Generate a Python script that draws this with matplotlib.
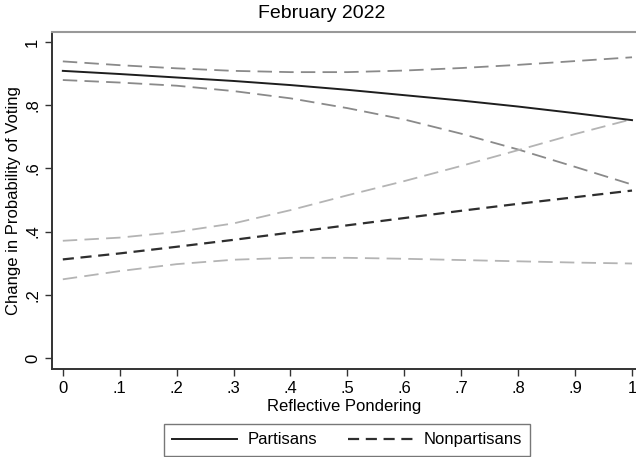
import matplotlib
matplotlib.use("Agg")
import matplotlib.pyplot as plt

plt.rcParams['font.family'] = ['Liberation Sans', 'DejaVu Sans']

# reflective pondering values
x = [0, .1, .2, .3, .4, .5, .6, .7, .8, .9, 1]

# partisans: prediction and CI
part_mean = [.909, .899, .888, .877, .864, .849, .832, .815, .796, .775, .753]
part_hi = [.939, .927, .917, .909, .905, .905, .910, .918, .928, .940, .952]
part_lo = [.880, .872, .862, .845, .822, .791, .755, .710, .660, .605, .549]

# nonpartisans: prediction and CI
nonp_mean = [.312, .331, .352, .374, .397, .420, .443, .466, .488, .509, .530]
nonp_hi = [.371, .381, .399, .426, .468, .515, .560, .608, .658, .709, .756]
nonp_lo = [.249, .275, .297, .311, .317, .317, .314, .310, .306, .302, .299]

xticks = [0, .1, .2, .3, .4, .5, .6, .7, .8, .9, 1]
xticklabels = ["0", ".1", ".2", ".3", ".4", ".5", ".6", ".7", ".8", ".9", "1"]
yticks = [0, .2, .4, .6, .8, 1]
yticklabels = ["0", ".2", ".4", ".6", ".8", "1"]

fig = plt.figure(figsize=(6.36, 4.57), dpi=100)
ax = fig.add_axes([52/636, 88/457, 584/636, 337.3/457])

# CI lines first
l, = ax.plot(x, part_hi, color="#8a8a8a", lw=1.3)
l.set_dashes([8, 4])
l, = ax.plot(x, part_lo, color="#8a8a8a", lw=1.3)
l.set_dashes([8, 4])
l, = ax.plot(x, nonp_hi, color="#b4b4b4", lw=1.3)
l.set_dashes([8, 4])
l, = ax.plot(x, nonp_lo, color="#b4b4b4", lw=1.3)
l.set_dashes([8, 4])

p1, = ax.plot(x, part_mean, color="#1e1e1e", lw=1.4, label="Partisans")
p2, = ax.plot(x, nonp_mean, color="#2e2e2e", lw=1.6, label="Nonpartisans")
p2.set_dashes([5, 3])

ax.set_xlim(-0.019, 1.007)
ax.set_ylim(-0.035, 1.033)

ax.set_xticks(xticks)
ax.set_xticklabels(xticklabels)
ax.set_yticks(yticks)
ax.set_yticklabels(yticklabels, rotation=90, va="center")
ax.tick_params(axis="both", direction="out", length=5, width=1, labelsize=12, color="#333333")

for s in ["left", "bottom"]:
    ax.spines[s].set_color("#333333")
    ax.spines[s].set_linewidth(1.4)
ax.spines["top"].set_color("#999999")
ax.spines["top"].set_linewidth(1.5)
ax.spines["right"].set_visible(False)

ax.set_xlabel("Reflective Pondering", fontsize=12, labelpad=2)
ax.set_ylabel("Change in Probability of Voting", fontsize=12, labelpad=3)

fig.text(322/636, 1 - 14/457, "February 2022", ha="center", va="center", fontsize=14)

leg = fig.legend(handles=[p1, p2], loc="upper center", bbox_to_anchor=(347/636, 1 - 424/457),
                 ncol=2, fontsize=12, frameon=True, fancybox=False, handlelength=3.9,
                 handletextpad=0.6, columnspacing=1.9, borderpad=0.5, borderaxespad=0)
leg.get_frame().set_edgecolor("#555555")
leg.get_frame().set_linewidth(1.0)

fig.savefig("out.png", dpi=100)
